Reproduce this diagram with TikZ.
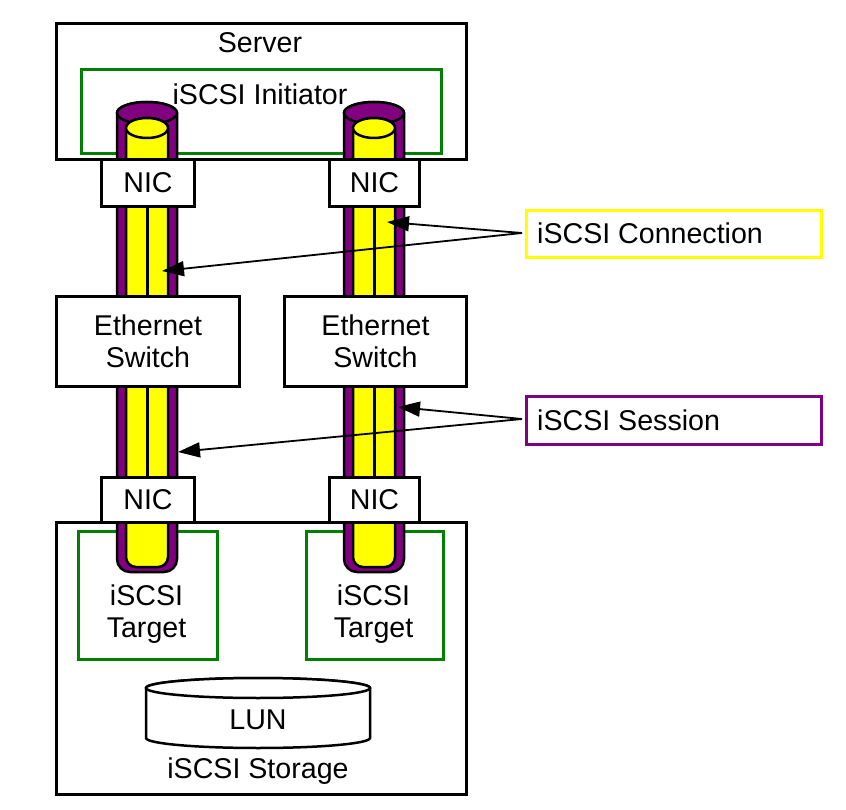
\documentclass[tikz,border=0pt]{standalone}
\usepackage{fontspec}
\setmainfont{Liberation Sans}
\usetikzlibrary{arrows.meta}
\definecolor{tubepurple}{RGB}{128,0,128}
\definecolor{tubeyellow}{RGB}{255,255,0}
\definecolor{boxgreen}{RGB}{0,128,0}
\begin{document}
\begin{tikzpicture}[x=1pt,y=-1pt,
  txt/.style={font=\fontsize{28.6}{32}\selectfont, inner sep=0pt, align=center},
  blackbox/.style={draw=black, line width=3pt, fill=white, rectangle, inner sep=0pt},
  greenbox/.style={draw=boxgreen, line width=3pt, fill=white, rectangle, inner sep=0pt},
  outer/.style={draw=black, line width=2.5pt, fill=tubepurple},
  inner/.style={draw=black, line width=2.5pt, fill=tubeyellow},
  pointer/.style={draw=black, line width=1.8pt, -{Triangle[length=22pt,width=15pt]}}
]
\useasboundingbox (0,0) rectangle (846,810);

% Server
\node[blackbox, anchor=north west, minimum width=410pt, minimum height=136pt] (server) at (55,22) {};
\node[txt] (servertxt) at (260,43) {Server};
\node[greenbox, anchor=north west, minimum width=360pt, minimum height=84pt] (initiator) at (80,68) {};
\node[txt] (initiatortxt) at (260,94) {iSCSI Initiator};

% Storage
\node[blackbox, anchor=north west, minimum width=410pt, minimum height=272pt] (storage) at (55,521) {};
\node[greenbox, anchor=north west, minimum width=139pt, minimum height=128pt] (targetL) at (77,530) {};
\node[greenbox, anchor=north west, minimum width=137pt, minimum height=128pt] (targetR) at (305,530) {};
\node[txt] (targetLtxt) at (146.5,614) {iSCSI\\Target};
\node[txt] (targetRtxt) at (373.5,614) {iSCSI\\Target};

% LUN cylinder
\draw[draw=black, line width=2.5pt, fill=white]
  (146,688) -- (146,738) arc[start angle=180, end angle=360, x radius=112pt, y radius=10pt]
  -- (370,688) arc[start angle=0, end angle=180, x radius=112pt, y radius=10pt] -- cycle;
\draw[draw=black, line width=2.5pt, fill=white] (258,688) ellipse[x radius=112pt, y radius=10pt];
\node[txt] (luntxt) at (258,720) {LUN};
\node[txt] (storagetxt) at (258,771) {iSCSI Storage};

% Tubes
\foreach \cx in {147,374} {
  \draw[outer] (\cx-30,113) [rounded corners=13pt] -- (\cx-30,572) -- (\cx+30,572) [sharp corners] -- (\cx+30,113)
     arc[start angle=0, end angle=180, x radius=30pt, y radius=11pt] -- cycle;
  \draw[outer] (\cx,113) ellipse[x radius=30pt, y radius=11pt];
  \draw[inner] (\cx-21,128) [rounded corners=10pt] -- (\cx-21,567) -- (\cx+21,567) [sharp corners] -- (\cx+21,128)
     arc[start angle=0, end angle=180, x radius=21pt, y radius=10pt] -- cycle;
  \draw[inner] (\cx,128) ellipse[x radius=21pt, y radius=10pt];
  \draw[black, line width=3pt] (\cx,205) -- (\cx,477);
}

% NICs
\node[blackbox, anchor=north west, minimum width=93pt, minimum height=47pt] (nicTL) at (100,158) {};
\node[txt] at (nicTL) {NIC};
\node[blackbox, anchor=north west, minimum width=90pt, minimum height=47pt] (nicTR) at (328,158) {};
\node[txt] at (nicTR) {NIC};
\node[blackbox, anchor=north west, minimum width=93pt, minimum height=45pt] (nicBL) at (100,476) {};
\node[txt] at (nicBL) {NIC};
\node[blackbox, anchor=north west, minimum width=90pt, minimum height=45pt] (nicBR) at (328,476) {};
\node[txt] at (nicBR) {NIC};

% Switches
\node[blackbox, anchor=north west, minimum width=183pt, minimum height=90pt] (swL) at (55,295) {};
\node[txt] at (swL) {Ethernet\\Switch};
\node[blackbox, anchor=north west, minimum width=182pt, minimum height=90pt] (swR) at (283,295) {};
\node[txt] at (swR) {Ethernet\\Switch};

% Legend boxes
\node[draw=tubeyellow, line width=3pt, fill=white, anchor=north west, minimum width=295pt, minimum height=47pt, inner sep=0pt] (conn) at (525,209) {};
\node[txt, anchor=west] (conntxt) at (537,233) {iSCSI Connection};
\node[draw=tubepurple, line width=3pt, fill=white, anchor=north west, minimum width=295pt, minimum height=48pt, inner sep=0pt] (sess) at (525,395) {};
\node[txt, anchor=west] (sesstxt) at (537,420) {iSCSI Session};

% Pointer targets
\coordinate (connR) at (387,222);
\coordinate (connL) at (162,271);
\coordinate (sessR) at (398,407);
\coordinate (sessL) at (178,452);
\coordinate (connS) at (522,233);
\coordinate (sessS) at (522,419);

\draw[pointer] (connS) -- (connR);
\draw[pointer] (connS) -- (connL);
\draw[pointer] (sessS) -- (sessR);
\draw[pointer] (sessS) -- (sessL);
\end{tikzpicture}
\end{document}
